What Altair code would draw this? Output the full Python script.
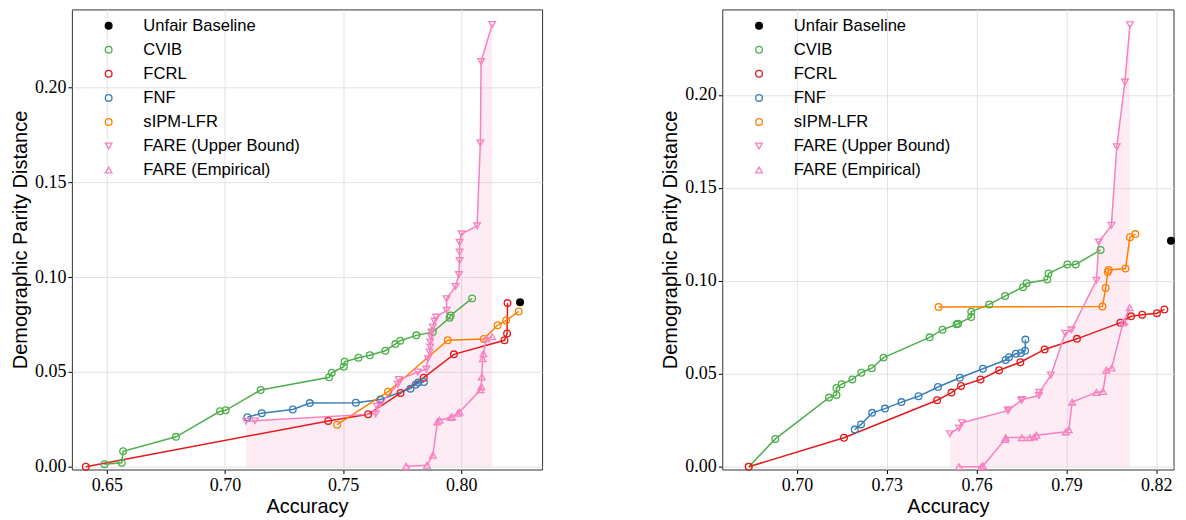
import altair as alt
import pandas as pd

SERIES = ["Unfair Baseline", "CVIB", "FCRL", "FNF", "sIPM-LFR",
          "FARE (Upper Bound)", "FARE (Empirical)"]
COLORS = ["#000000", "#4daf4a", "#e41a1c", "#377eb8", "#ff7f00", "#f781bf", "#f781bf"]
FILLS = ["#000000", "transparent", "transparent", "transparent", "transparent",
         "transparent", "transparent"]
SHAPES = ["circle", "circle", "circle", "circle", "circle", "triangle-down", "triangle-up"]

# ---------------- left panel ----------------
L_BASE_X = [0.8249]
L_BASE_Y = [0.0867]
L_CVIB_X = [0.6490, 0.6563, 0.6569, 0.6793, 0.6979, 0.7003, 0.7151, 0.7441, 0.7452, 0.7503,
            0.7506, 0.7565, 0.7613, 0.7679, 0.7721, 0.7742, 0.7810, 0.7880, 0.7951, 0.7955, 0.8046]
L_CVIB_Y = [0.0014, 0.0021, 0.0082, 0.0158, 0.0293, 0.0298, 0.0405, 0.0472, 0.0496, 0.0528,
            0.0554, 0.0575, 0.0588, 0.0612, 0.0647, 0.0665, 0.0693, 0.0711, 0.0786, 0.0798, 0.0888]
L_FCRL_X = [0.6411, 0.7437, 0.7606, 0.7743, 0.7841, 0.7969, 0.8183, 0.8194, 0.8196]
L_FCRL_Y = [0.0000, 0.0242, 0.0277, 0.0389, 0.0470, 0.0593, 0.0667, 0.0703, 0.0863]
L_FNF_X = [0.7095, 0.7156, 0.7287, 0.7359, 0.7554, 0.7658, 0.7785, 0.7807, 0.7818, 0.7842]
L_FNF_Y = [0.0261, 0.0283, 0.0302, 0.0336, 0.0338, 0.0355, 0.0412, 0.0433, 0.0444, 0.0447]
L_SIPM_X = [0.7475, 0.7690, 0.7943, 0.8095, 0.8154, 0.8190, 0.8243]
L_SIPM_Y = [0.0222, 0.0396, 0.0667, 0.0674, 0.0746, 0.0772, 0.0819]
L_UB_X = [0.7089, 0.7127, 0.7638, 0.7643, 0.7656, 0.7732, 0.7736, 0.7816, 0.7852, 0.7859,
          0.7866, 0.7869, 0.7869, 0.7873, 0.7873, 0.7880, 0.7887, 0.7894, 0.7938, 0.7938,
          0.7976, 0.7990, 0.7993, 0.7993, 0.7993, 0.8001, 0.8067, 0.8081, 0.8084, 0.8131]
L_UB_Y = [0.0240, 0.0243, 0.0279, 0.0319, 0.0330, 0.0435, 0.0460, 0.0500, 0.0515, 0.0570,
          0.0605, 0.0632, 0.0658, 0.0684, 0.0711, 0.0737, 0.0768, 0.0789, 0.0825, 0.0886,
          0.0951, 0.1014, 0.1088, 0.1132, 0.1184, 0.1228, 0.1270, 0.1707, 0.2137, 0.2332]
L_EMP_X = [0.7767, 0.7855, 0.7880, 0.7899, 0.7908, 0.7955, 0.7962, 0.7986, 0.7993, 0.8082,
           0.8085, 0.8087, 0.8091, 0.8094, 0.8106, 0.8131]
L_EMP_Y = [0.0003, 0.0008, 0.0061, 0.0237, 0.0246, 0.0260, 0.0263, 0.0282, 0.0289, 0.0406,
           0.0423, 0.0474, 0.0570, 0.0596, 0.0675, 0.0686]

# ---------------- right panel ----------------
R_BASE_X = [0.8249]
R_BASE_Y = [0.1215]
R_CVIB_X = [0.6839, 0.6928, 0.7107, 0.7132, 0.7132, 0.7149, 0.7185, 0.7215, 0.7250, 0.7289,
            0.7443, 0.7486, 0.7533, 0.7538, 0.7582, 0.7582, 0.7642, 0.7695, 0.7755, 0.7767,
            0.7836, 0.7840, 0.7903, 0.7931, 0.8014]
R_CVIB_Y = [0.0000, 0.0150, 0.0372, 0.0386, 0.0424, 0.0444, 0.0470, 0.0506, 0.0530, 0.0587,
            0.0696, 0.0737, 0.0766, 0.0769, 0.0805, 0.0834, 0.0873, 0.0918, 0.0966, 0.0987,
            0.1007, 0.1039, 0.1088, 0.1088, 0.1166]
R_FCRL_X = [0.6839, 0.7157, 0.7468, 0.7516, 0.7548, 0.7613, 0.7675, 0.7746, 0.7827, 0.7935,
            0.8080, 0.8116, 0.8153, 0.8202, 0.8227]
R_FCRL_Y = [0.0000, 0.0156, 0.0358, 0.0399, 0.0435, 0.0469, 0.0519, 0.0562, 0.0631, 0.0688,
            0.0775, 0.0809, 0.0818, 0.0826, 0.0846]
R_FNF_X = [0.7193, 0.7214, 0.7251, 0.7294, 0.7349, 0.7406, 0.7471, 0.7544, 0.7621, 0.7697,
           0.7708, 0.7731, 0.7748, 0.7762, 0.7763]
R_FNF_Y = [0.0200, 0.0228, 0.0290, 0.0313, 0.0348, 0.0379, 0.0429, 0.0479, 0.0527, 0.0574,
           0.0589, 0.0608, 0.0612, 0.0624, 0.0684]
R_SIPM_X = [0.7473, 0.8020, 0.8031, 0.8038, 0.8041, 0.8097, 0.8112, 0.8130]
R_SIPM_Y = [0.0859, 0.0862, 0.0961, 0.1047, 0.1058, 0.1066, 0.1234, 0.1251]
R_UB_X = [0.7511, 0.7541, 0.7551, 0.7704, 0.7707, 0.7749, 0.7752, 0.7808, 0.7809, 0.7848,
          0.7896, 0.7917, 0.8000, 0.8008, 0.8050, 0.8068, 0.8095, 0.8112]
R_UB_Y = [0.0178, 0.0209, 0.0237, 0.0302, 0.0306, 0.0358, 0.0362, 0.0383, 0.0400, 0.0493,
          0.0718, 0.0736, 0.1003, 0.1209, 0.1298, 0.1720, 0.2068, 0.2376]
R_EMP_X = [0.7541, 0.7616, 0.7621, 0.7695, 0.7697, 0.7751, 0.7778, 0.7792, 0.7800, 0.7898,
           0.7908, 0.7919, 0.8000, 0.8022, 0.8033, 0.8051, 0.8089, 0.8092, 0.8111]
R_EMP_Y = [0.0000, 0.0000, 0.0004, 0.0147, 0.0157, 0.0157, 0.0157, 0.0161, 0.0170, 0.0188,
           0.0199, 0.0348, 0.0400, 0.0405, 0.0520, 0.0531, 0.0775, 0.0780, 0.0855]

L_XTICKS = [0.65, 0.70, 0.75, 0.80]
R_XTICKS = [0.70, 0.73, 0.76, 0.79, 0.82]
YTICKS = [0.00, 0.05, 0.10, 0.15, 0.20]


def build(series_xy):
    rows = []
    for name, xs, ys in series_xy:
        for i, (a, b) in enumerate(zip(xs, ys)):
            rows.append({"series": name, "x": a, "y": b, "base": 0.0, "idx": i})
    return pd.DataFrame(rows)


left_df = build([
    (SERIES[0], L_BASE_X, L_BASE_Y), (SERIES[1], L_CVIB_X, L_CVIB_Y),
    (SERIES[2], L_FCRL_X, L_FCRL_Y), (SERIES[3], L_FNF_X, L_FNF_Y),
    (SERIES[4], L_SIPM_X, L_SIPM_Y), (SERIES[5], L_UB_X, L_UB_Y),
    (SERIES[6], L_EMP_X, L_EMP_Y)])
right_df = build([
    (SERIES[0], R_BASE_X, R_BASE_Y), (SERIES[1], R_CVIB_X, R_CVIB_Y),
    (SERIES[2], R_FCRL_X, R_FCRL_Y), (SERIES[3], R_FNF_X, R_FNF_Y),
    (SERIES[4], R_SIPM_X, R_SIPM_Y), (SERIES[5], R_UB_X, R_UB_Y),
    (SERIES[6], R_EMP_X, R_EMP_Y)])

SERIF = "Liberation Serif"
SANS = "Liberation Sans"

legend = alt.Legend(title=None, orient="none", legendX=28.5, legendY=8,
                    symbolSize=45, symbolStrokeWidth=1.3, labelFont=SANS,
                    labelFontSize=16.6, labelColor="#000000", labelOffset=26.5,
                    rowPadding=7.1, labelLimit=400)

H = 460.86


def panel(df, xdom, ydom, xticks, width):
    xenc = alt.X("x:Q", scale=alt.Scale(domain=xdom, nice=False, zero=False),
                 axis=alt.Axis(values=xticks, format=".2f", title="Accuracy",
                               labelFont=SERIF, labelFontSize=18, labelPadding=3,
                               titlePadding=2))
    yenc = alt.Y("y:Q", scale=alt.Scale(domain=ydom, nice=False, zero=False),
                 axis=alt.Axis(values=YTICKS, format=".2f",
                               title="Demographic Parity Distance",
                               labelFont=SERIF, labelFontSize=18, labelPadding=2,
                               titlePadding=4))
    ub = df[df["series"] == "FARE (Upper Bound)"]
    area = alt.Chart(ub).mark_area(color="#f781bf", opacity=0.15).encode(
        x=xenc, y=yenc, y2="base:Q")
    # line scale uses a different domain (no baseline) so it never merges
    # with the marker legend
    lines = alt.Chart(df[df["series"] != "Unfair Baseline"]).mark_line(
        strokeWidth=1.5).encode(
        x=xenc, y=yenc,
        stroke=alt.Stroke("series:N",
                          scale=alt.Scale(domain=SERIES[1:], range=COLORS[1:]),
                          legend=None),
        detail="series:N", order=alt.Order("idx:Q"))
    pts = alt.Chart(df).mark_point(filled=False, size=45, strokeWidth=1.3,
                                   opacity=1).encode(
        x=xenc, y=yenc,
        color=alt.Color("series:N", scale=alt.Scale(domain=SERIES, range=COLORS),
                        legend=legend),
        fill=alt.Fill("series:N", scale=alt.Scale(domain=SERIES, range=FILLS),
                      legend=legend),
        shape=alt.Shape("series:N", scale=alt.Scale(domain=SERIES, range=SHAPES),
                        legend=legend))
    return alt.layer(area, lines, pts).properties(width=width, height=H)


left = panel(left_df, [0.63521, 0.83422], [-0.00142, 0.24113], L_XTICKS, 471)
right = panel(right_df, [0.67507, 0.82574], [-0.00145, 0.24589], R_XTICKS, 452)

chart = alt.hconcat(left, right, spacing=117.5).resolve_scale(
    x="independent", y="independent", color="independent",
    fill="independent", shape="independent", stroke="independent").resolve_legend(
    color="independent", fill="independent", shape="independent").properties(
    padding={"left": 2, "top": 0, "right": 0, "bottom": 0},
    background="white").configure_axis(
    labelFont=SERIF, labelFontSize=18, labelColor="#000000",
    titleFont=SANS, titleFontSize=20, titleFontWeight="normal",
    titleColor="#000000", gridColor="#e2e2e2", gridWidth=1, tickColor="#000000",
    tickSize=4, tickWidth=1, domain=False).configure_view(
    stroke="#333333", strokeWidth=1)

chart.save("out.html", embed_options={"renderer": "svg", "actions": False})
